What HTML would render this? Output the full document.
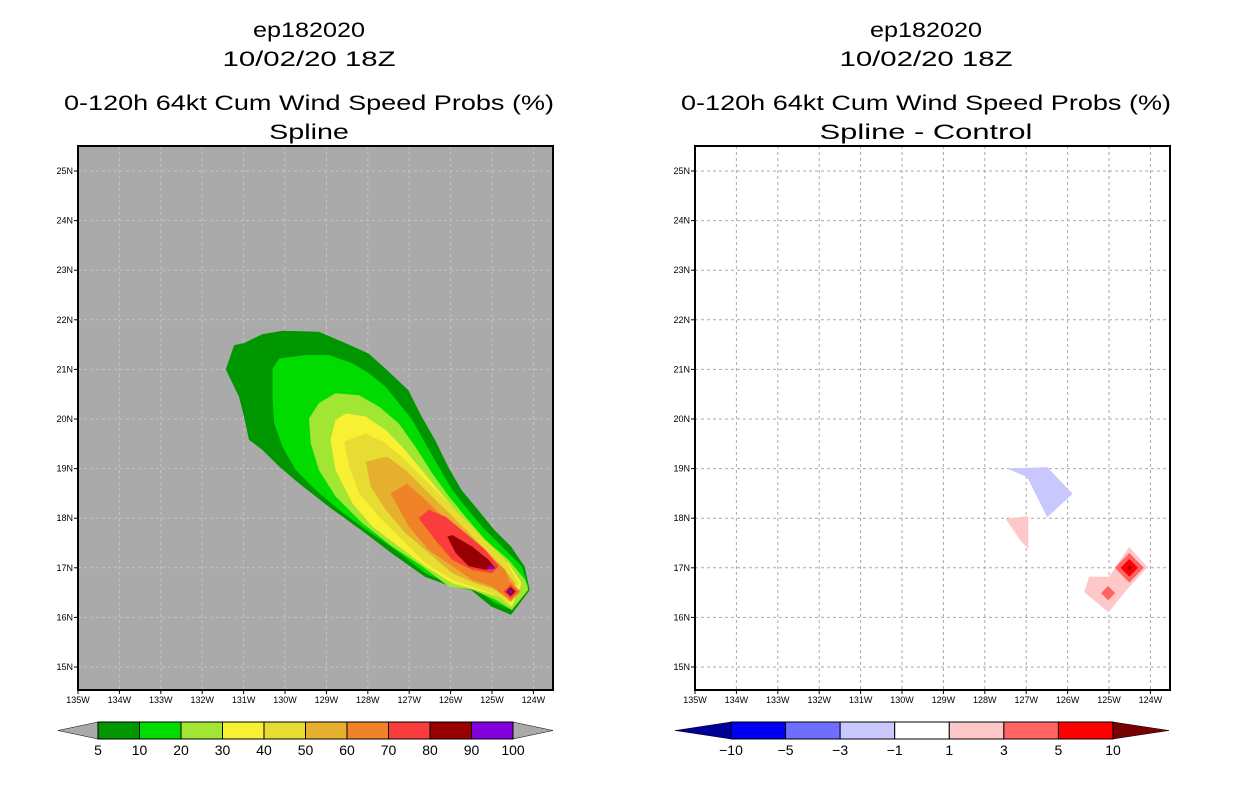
<!DOCTYPE html>
<html><head><meta charset="utf-8"><style>
html,body{margin:0;padding:0;background:#fff;}
svg{display:block;font-family:"Liberation Sans",sans-serif;}
</style></head><body>
<svg id="root" width="1236" height="800" viewBox="0 0 1236 800"></svg>
<script>
// ---- data ----
const lonTicks = [-135,-134,-133,-132,-131,-130,-129,-128,-127,-126,-125,-124];
const latTicks = [15,16,17,18,19,20,21,22,23,24,25];
const probLevels = [5,10,20,30,40,50,60,70,80,90,100];
const probColors = ["#009600","#00dc00","#a0e632","#f8f032","#e6dc32","#e6af2d","#f08228","#fa3c3c","#960000","#8200dc"];
const diffLevels = [-10,-5,-3,-1,1,3,5,10];
const diffColors = ["#0000f0","#6e6eff","#c8c8ff","#ffffff","#ffc8c8","#ff6464","#ff0000"];
const c5 = [[-131.43,21.00],[-131.23,21.49],[-130.99,21.53],[-130.55,21.71],[-130.06,21.78],[-129.18,21.76],[-128.54,21.53],[-127.98,21.32],[-127.58,21.02],[-127.02,20.58],[-126.70,20.05],[-126.38,19.58],[-126.06,19.04],[-125.74,18.57],[-125.34,18.17],[-124.94,17.76],[-124.54,17.43],[-124.21,17.02],[-124.09,16.55],[-124.54,16.05],[-125.02,16.22],[-125.50,16.55],[-125.98,16.62],[-126.62,16.82],[-127.42,17.29],[-128.06,17.70],[-128.94,18.23],[-129.66,18.70],[-130.14,19.04],[-130.55,19.38],[-130.87,19.58],[-130.99,20.05],[-131.11,20.45]];
const c10 = [[-130.30,21.02],[-130.14,21.22],[-129.50,21.29],[-128.94,21.29],[-128.37,21.12],[-127.97,20.92],[-127.57,20.65],[-127.25,20.32],[-126.93,19.99],[-126.61,19.51],[-126.29,19.04],[-125.96,18.57],[-125.64,18.23],[-125.24,17.83],[-124.76,17.43],[-124.28,17.03],[-124.12,16.62],[-124.52,16.15],[-124.92,16.29],[-125.48,16.62],[-125.96,16.66],[-126.61,16.89],[-127.33,17.36],[-128.05,17.77],[-128.70,18.17],[-129.26,18.57],[-129.74,18.97],[-130.06,19.44],[-130.26,19.91],[-130.30,20.45]];
const c20 = [[-129.42,20.01],[-129.18,20.32],[-128.78,20.52],[-128.21,20.48],[-127.73,20.25],[-127.25,19.91],[-126.85,19.44],[-126.45,18.91],[-126.04,18.44],[-125.64,18.03],[-125.16,17.56],[-124.60,17.16],[-124.20,16.76],[-124.12,16.56],[-124.52,16.15],[-124.92,16.36],[-125.48,16.56],[-126.04,16.62],[-126.69,17.03],[-127.41,17.43],[-128.13,17.90],[-128.78,18.44],[-129.18,18.97],[-129.38,19.51]];
const c30 = [[-128.90,19.58],[-128.78,19.98],[-128.53,20.11],[-128.05,20.05],[-127.57,19.78],[-127.17,19.44],[-126.77,19.04],[-126.37,18.64],[-125.96,18.23],[-125.56,17.83],[-125.08,17.43],[-124.60,17.09],[-124.28,16.69],[-124.52,16.22],[-124.84,16.42],[-125.40,16.56],[-125.96,16.69],[-126.61,17.03],[-127.25,17.43],[-127.89,17.83],[-128.37,18.30],[-128.78,18.97]];
const c40 = [[-128.57,19.54],[-128.05,19.71],[-127.57,19.51],[-127.09,19.17],[-126.61,18.77],[-126.12,18.36],[-125.64,17.96],[-125.16,17.56],[-124.68,17.16],[-124.36,16.69],[-124.60,16.29],[-125.00,16.49],[-125.48,16.62],[-125.96,16.76],[-126.61,17.09],[-127.17,17.56],[-127.73,18.03],[-128.21,18.50],[-128.45,19.04]];
const c50 = [[-128.05,19.14],[-127.53,19.24],[-127.09,18.97],[-126.61,18.57],[-126.12,18.17],[-125.64,17.77],[-125.16,17.36],[-124.76,17.03],[-124.44,16.69],[-124.60,16.36],[-124.92,16.56],[-125.40,16.69],[-125.96,16.89],[-126.53,17.30],[-127.09,17.70],[-127.57,18.17],[-127.93,18.64]];
const c60 = [[-127.45,18.50],[-127.05,18.70],[-126.61,18.37],[-126.12,17.97],[-125.64,17.63],[-125.16,17.30],[-124.68,16.96],[-124.52,16.62],[-124.68,16.42],[-125.00,16.62],[-125.48,16.76],[-125.96,17.03],[-126.53,17.36],[-127.01,17.83]];
const c70 = [[-126.77,18.00],[-126.53,18.17],[-126.12,18.03],[-125.64,17.70],[-125.16,17.36],[-124.84,17.03],[-125.00,16.89],[-125.48,16.96],[-125.96,17.16],[-126.37,17.56]];
const c80 = [[-126.08,17.63],[-125.96,17.66],[-125.48,17.43],[-125.08,17.16],[-124.92,16.99],[-125.16,16.96],[-125.56,17.03],[-125.88,17.30]];
const c90 = [[-125.12,17.00],[-125.02,17.04],[-124.93,17.00],[-125.02,16.96]];
// tip blob: [lon, lat, half-size deg, level index]
const tipDiamonds = [[-124.55,16.52,0.24,6],[-124.55,16.52,0.17,7],[-124.55,16.52,0.11,8],[-124.55,16.52,0.06,9]];
const probContours = [[c5,0],[c10,1],[c20,2],[c30,3],[c40,4],[c50,5],[c60,6],[c70,7],[c80,8],[c90,9]];
// difference panel
const dBlue = [[-127.46,19.00],[-126.49,19.03],[-125.88,18.49],[-126.49,18.02],[-126.98,18.83]];
const dPink1 = [[-127.50,17.99],[-126.95,18.04],[-126.95,17.38],[-127.14,17.55]];
const dPink2 = [[-125.48,16.82],[-125.00,16.82],[-124.51,17.42],[-124.07,17.01],[-124.59,16.54],[-125.01,16.10],[-125.60,16.51]];
const diffPolys = [[dBlue,2],[dPink1,4],[dPink2,4]];
// [lon, lat, half-size deg, color index]
const diffDiamonds = [[-124.51,17.00,0.35,5],[-125.02,16.49,0.17,5],[-124.51,17.00,0.21,6]];

// ---- drawing ----
const NS="http://www.w3.org/2000/svg";
const root=document.getElementById('root');
function mk(tag,attrs,parent){const e=document.createElementNS(NS,tag);for(const k in attrs)e.setAttribute(k,attrs[k]);(parent||root).appendChild(e);return e;}
const LON0=-135.0, LAT0=25.0, PXLON=41.4, PXLAT=49.6, TOP=146, BOT=690, Y25=171;
function panel(x0,name){
  const g=mk('g',{});
  
  
  const xs=lon=>x0+(lon-LON0)*PXLON;
  const ys=lat=>Y25+(LAT0-lat)*PXLAT;
  return {g,xs,ys,x0,x1:x0+475};
}
function poly(p,pts,fill,nm){
  const e=mk('polygon',{points:pts.map(q=>p.xs(q[0]).toFixed(1)+','+p.ys(q[1]).toFixed(1)).join(' '),fill:fill},p.g);
  
  
}
function diamond(p,d,fill,nm){
  const [lo,la,h]=d;
  poly(p,[[lo-h,la],[lo,la+h*0.85],[lo+h,la],[lo,la-h*0.85]],fill,nm);
}
function text(parent,x,y,s,attrs,nm){
  const t=mk('text',Object.assign({x:x,y:y},attrs),parent);
  t.textContent=s;
  
  
  return t;
}
function axes(p,bg){
  const r=mk('rect',{x:p.x0,y:TOP,width:475,height:BOT-TOP,fill:bg},p.g);
  
  
  return r;
}
function grid(p,col){
  lonTicks.forEach(l=>{const e=mk('line',{x1:p.xs(l),x2:p.xs(l),y1:TOP,y2:BOT,stroke:col,'stroke-width':1,'stroke-dasharray':'3,3'},p.g);
    });
  latTicks.forEach(l=>{const e=mk('line',{x1:p.x0,x2:p.x1,y1:p.ys(l),y2:p.ys(l),stroke:col,'stroke-width':1,'stroke-dasharray':'3,3'},p.g);
    });
}
function frame(p){
  const r=mk('rect',{x:p.x0,y:TOP,width:475,height:BOT-TOP,fill:'none',stroke:'#000','stroke-width':2},p.g);
  
  lonTicks.forEach(l=>{mk('line',{x1:p.xs(l),x2:p.xs(l),y1:BOT,y2:BOT+4,stroke:'#000'},p.g);
    text(p.g,p.xs(l),703,(-l)+'W',{'font-size':9,'text-anchor':'middle'},'x-tick-label');});
  latTicks.forEach(l=>{mk('line',{x1:p.x0-4,x2:p.x0,y1:p.ys(l),y2:p.ys(l),stroke:'#000'},p.g);
    text(p.g,p.x0-5,p.ys(l)+3,l+'N',{'font-size':9,'text-anchor':'end'},'y-tick-label');});
}
function titles(cx,sub){
  const g=mk('g',{});
  
  
  const a={'font-size':21,'text-anchor':'middle','lengthAdjust':'spacingAndGlyphs'};
  text(g,cx,37,'ep182020',Object.assign({textLength:112},a),'storm-id');
  text(g,cx,66,'10/02/20 18Z',Object.assign({textLength:173},a),'date-title');
  text(g,cx,110,'0-120h 64kt Cum Wind Speed Probs (%)',Object.assign({textLength:490},a),'main-title');
  text(g,cx,139,sub,Object.assign({textLength:sub.length*13.3},a),'subtitle');
}
// left panel
titles(309,'Spline');
const L=panel(78,'probability-panel');
axes(L,'#aaaaaa');
grid(L,'#c4c4c4');
probContours.forEach(([pts,i])=>poly(L,pts,probColors[i],'contour-'+probLevels[i]+'pct'));
tipDiamonds.forEach(d=>diamond(L,d,probColors[d[3]],'tip-contour-'+probLevels[d[3]]+'pct'));
frame(L);
// right panel
titles(926,'Spline - Control');
const R=panel(695,'difference-panel');
axes(R,'#ffffff');
grid(R,'#aaaaaa');
diffPolys.forEach(([pts,i])=>poly(R,pts,diffColors[i],'diff-region'));
diffDiamonds.forEach(d=>diamond(R,d,diffColors[d[3]],'diff-peak'));
poly(R,[[-124.56,17.0],[-124.51,17.05],[-124.46,17.0],[-124.51,16.95]],'#960000','diff-peak-core');
frame(R);
// colorbars
function colorbar(x0,x1,aw,levels,colors,lcol,rcol,nm){
  const g=mk('g',{});
  
  
  const y0=722,y1=739,n=colors.length,w=(x1-x0)/n;
  const tl=mk('polygon',{points:`${x0},${y0} ${x0-aw},${(y0+y1)/2} ${x0},${y1}`,fill:lcol,stroke:'#000','stroke-width':0.5},g);
  
  const tr=mk('polygon',{points:`${x1},${y0} ${x1+aw},${(y0+y1)/2} ${x1},${y1}`,fill:rcol,stroke:'#000','stroke-width':0.5},g);
  
  colors.forEach((c,i)=>{const r=mk('rect',{x:x0+i*w,y:y0,width:w,height:y1-y0,fill:c,stroke:'#000','stroke-width':1},g);
    });
  levels.forEach((v,i)=>text(g,x0+i*w,755,String(v).replace('-','\u2212'),{'font-size':14,'text-anchor':'middle'},'colorbar-label'));
}
colorbar(98,513,40,probLevels,probColors,'#aaaaaa','#aaaaaa','probability-colorbar');
colorbar(731,1113,56,diffLevels,diffColors,'#000096','#780000','difference-colorbar');
</script>
</body></html>
